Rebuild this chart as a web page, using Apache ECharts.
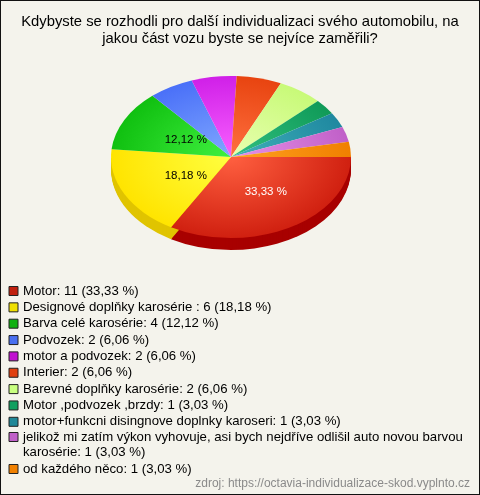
<!DOCTYPE html>
<html><head><meta charset="utf-8">
<script src="https://cdn.jsdelivr.net/npm/echarts@6/dist/echarts.min.js"></script>
<style>
html,body{margin:0;padding:0;background:#f4f3ec;}
#c{position:absolute;left:0;top:0;width:478px;height:493px;border:1px solid #111;}
</style></head>
<body><div id="c"></div>
<script>
var titleText = 'Kdybyste se rozhodli pro další individualizaci svého automobilu, na\njakou část vozu byste se nejvíce zaměřili?';
var sourceText = 'zdroj: https://octavia-individualizace-skod.vyplnto.cz';
var categories = ['Motor','Designové doplňky karosérie ','Barva celé karosérie','Podvozek','motor a podvozek','Interier','Barevné doplňky karosérie','Motor ,podvozek ,brzdy','motor+funkcni disingnove doplnky karoseri','jelikož mi zatím výkon vyhovuje, asi bych nejdříve odlišil auto novou barvou karosérie','od každého něco'];
var values = [11,6,4,2,2,2,2,1,1,1,1];
var legendColors = ['#c0200e','#f0e000','#10b010','#4a70f0','#c010d0','#e04010','#c8ff80','#10a060','#208898','#c060c8','#f08000'];
var sliceBase  = ['#d02010','#ffe400','#10c010','#4a70f8','#d020e8','#e84410','#c8fa78','#109a58','#1f88a0','#c060c8','#f08000'];
var sliceLight = ['#ff6040','#ffff40','#40f040','#80a8ff','#f860ff','#ff7040','#e8ffb0','#30c080','#40b0b8','#e890e8','#ffa020'];
var sliceSide  = ['#a80000','#e0c400','#089008','#3050c0','#a010b0','#b03000','#a0d060','#087040','#106070','#904098','#c06000'];

var total = values.reduce(function(a,b){return a+b;},0);
function pct(v){ return (v/total*100).toFixed(2).replace('.', ',') + ' %'; }
var cum = [0];
for (var i=0;i<values.length;i++) cum.push(cum[i]+values[i]);

var chart = echarts.init(document.getElementById('c'), null, {renderer:'canvas'});
var CX = 230, CY = 156, R = 120, K = 0.675, DEPTH = 12, LABEL_DX = 6;
var FONT = '"Liberation Sans", Arial, sans-serif';

function renderItem(params, api){
  var idx = params.dataIndex;
  var a0 = cum[idx]/total*Math.PI*2;
  var a1 = cum[idx+1]/total*Math.PI*2;
  var children = [];
  var s0 = Math.max(a0, 0), s1 = Math.min(a1, Math.PI);
  if (s1 > s0) {
    for (var d = DEPTH; d >= 1; d--) {
      children.push({type:'sector', x:CX, y:CY + d, scaleY:K, z2:1,
        shape:{cx:0, cy:0, r:R, r0:0, startAngle:s0, endAngle:s1, clockwise:true},
        style:{fill:sliceSide[idx], stroke:null}});
    }
  }
  children.push({type:'sector', x:CX, y:CY, scaleY:K, z2:10,
    shape:{cx:0, cy:0, r:R, r0:0, startAngle:a0, endAngle:a1, clockwise:true},
    style:{fill:{type:'radial', x:0, y:0, r:R, global:true,
      colorStops:[{offset:0,color:sliceLight[idx]},{offset:1,color:sliceBase[idx]}]}, stroke:null}});
  var p = api.value(0)/total;
  if (p > 0.1) {
    var m = (a0+a1)/2, lr = 0.48*R;
    children.push({type:'text', z2:20, x:CX + LABEL_DX + lr*Math.cos(m), y:CY + 1 + lr*Math.sin(m)*K,
      style:{text:pct(api.value(0)), fill: idx===0 ? '#ffffff' : '#000000',
        font:'11.5px ' + FONT, align:'center', verticalAlign:'middle'}});
  }
  return {type:'group', children:children};
}

var legendFmt = function(name){
  var i = categories.indexOf(name);
  var s = name.replace(/\s+$/, ' ') + ': ' + values[i] + ' (' + pct(values[i]) + ')';
  return i === 9 ? '\n' + s.replace(' barvou ', ' barvou\n') : s;
};
var legendText = {fontFamily:FONT, fontSize:13.2, color:'#000', lineHeight:15};

var option = {
  backgroundColor:'#f4f3ec',
  animation:false,
  title:{text:titleText, left:'center', top:12, padding:0,
    textStyle:{fontFamily:FONT, fontSize:14.8, fontWeight:'normal', color:'#000', lineHeight:17}},
  graphic:[{type:'text', right:9, top:477,
    style:{text:sourceText, fill:'#8a8a8a', font:'12px ' + FONT}}],
  legend:[
    {orient:'vertical', left:7.5, top:282.5, padding:0, itemWidth:9, itemHeight:9, itemGap:1.35, icon:'rect',
      itemStyle:{borderColor:'#222', borderWidth:1}, textStyle:legendText, formatter:legendFmt,
      data:categories.slice(0,9), selectedMode:false},
    {orient:'vertical', left:7.5, top:413.5, padding:0, itemWidth:9, itemHeight:9, itemGap:2, icon:'rect',
      itemStyle:{borderColor:'#222', borderWidth:1}, textStyle:legendText, formatter:legendFmt,
      data:categories.slice(9), selectedMode:false}
  ],
  series:[
    {type:'pie', name:'legend', center:[-100,-100], radius:[0,2], silent:true, label:{show:false}, labelLine:{show:false},
      data:categories.map(function(c,i){return {name:c, value:values[i], itemStyle:{color:legendColors[i]}};})},
    {type:'custom', coordinateSystem:'none', renderItem:renderItem, silent:true,
      data:values.map(function(v){return [v];})}
  ]
};
chart.setOption(option);
</script></body></html>
